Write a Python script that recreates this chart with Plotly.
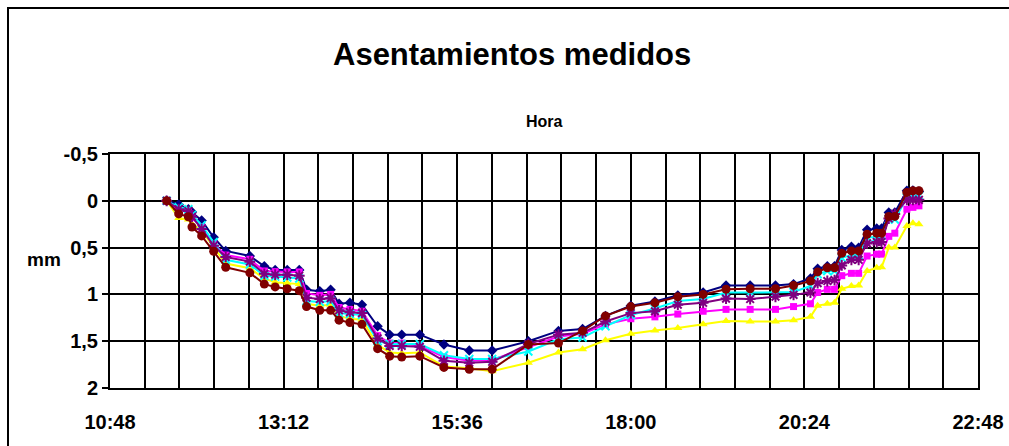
import pandas as pd
import plotly.graph_objects as go

# ---------------- data ----------------
times = ["11:35", "11:45", "11:53", "11:56", "12:04", "12:14", "12:24", "12:44", "12:56", "13:05",
         "13:15", "13:25", "13:31", "13:42", "13:51", "13:58", "14:07", "14:17", "14:30", "14:40",
         "14:50", "15:05", "15:25", "15:46", "16:05", "16:35", "17:00", "17:20", "17:39", "18:00",
         "18:20", "18:39", "19:00", "19:19", "19:39", "20:00", "20:15", "20:29", "20:35", "20:43",
         "20:49", "20:55", "21:03", "21:09", "21:16", "21:24", "21:28", "21:34", "21:39", "21:49",
         "21:54", "21:59"]

serie_azul = [0, 0.04, 0.09, 0.12, 0.21, 0.39, 0.535, 0.59, 0.70, 0.74,
              0.74, 0.74, 0.95, 0.965, 0.95, 1.10, 1.09, 1.11, 1.34, 1.43,
              1.43, 1.43, 1.535, 1.60, 1.60, 1.50, 1.39, 1.37, 1.23, 1.12,
              1.075, 1.01, 0.98, 0.905, 0.905, 0.905, 0.89, 0.83, 0.725, 0.70,
              0.70, 0.525, 0.49, 0.50, 0.31, 0.296, 0.296, 0.125, 0.125, -0.107,
              -0.11, -0.10]
serie_magenta = [0, 0.10, 0.12, 0.18, 0.28, 0.46, 0.58, 0.625, 0.75, 0.757,
                 0.76, 0.76, 0.99, 1.01, 1.00, 1.14, 1.16, 1.18, 1.44, 1.52,
                 1.52, 1.55, 1.67, 1.71, 1.70, 1.56, 1.45, 1.42, 1.32, 1.26,
                 1.24, 1.21, 1.18, 1.16, 1.16, 1.16, 1.13, 1.10, 0.98, 0.946,
                 0.946, 0.80, 0.775, 0.775, 0.59, 0.57, 0.57, 0.38, 0.346, 0.09,
                 0.07, 0.054]
serie_amarilla = [0, 0.185, 0.20, 0.25, 0.32, 0.50, 0.67, 0.72, 0.83, 0.87,
                  0.88, 0.89, 1.10, 1.12, 1.11, 1.23, 1.26, 1.27, 1.54, 1.62,
                  1.63, 1.62, 1.77, 1.79, 1.82, 1.73, 1.62, 1.585, 1.49, 1.42,
                  1.385, 1.36, 1.32, 1.285, 1.29, 1.29, 1.275, 1.24, 1.12, 1.10,
                  1.09, 0.94, 0.91, 0.905, 0.75, 0.715, 0.71, 0.50, 0.50, 0.27,
                  0.24, 0.25]
serie_cian = [0, 0.07, 0.09, 0.15, 0.26, 0.44, 0.63, 0.68, 0.80, 0.81,
              0.82, 0.83, 1.07, 1.08, 1.07, 1.20, 1.21, 1.22, 1.50, 1.53,
              1.53, 1.53, 1.65, 1.69, 1.69, 1.61, 1.48, 1.46, 1.34, 1.22,
              1.15, 1.07, 1.05, 0.98, 0.98, 0.98, 0.975, 0.91, 0.785, 0.75,
              0.75, 0.61, 0.58, 0.58, 0.39, 0.39, 0.37, 0.196, 0.20, -0.036,
              -0.054, -0.054]
serie_purpura = [0, 0.09, 0.11, 0.17, 0.30, 0.48, 0.60, 0.65, 0.78, 0.79,
                 0.79, 0.80, 1.035, 1.05, 1.04, 1.17, 1.19, 1.20, 1.47, 1.55,
                 1.55, 1.56, 1.71, 1.73, 1.72, 1.53, 1.43, 1.41, 1.29, 1.20,
                 1.18, 1.11, 1.09, 1.045, 1.05, 1.025, 1.005, 0.98, 0.88, 0.857,
                 0.847, 0.69, 0.63, 0.63, 0.455, 0.44, 0.44, 0.19, 0.14, -0.01,
                 -0.01, -0.01]
serie_granate = [0, 0.14, 0.17, 0.28, 0.375, 0.54, 0.71, 0.77, 0.89, 0.92,
                 0.94, 0.96, 1.13, 1.17, 1.17, 1.275, 1.30, 1.32, 1.58, 1.66,
                 1.67, 1.66, 1.78, 1.80, 1.80, 1.535, 1.52, 1.39, 1.23, 1.13,
                 1.09, 1.025, 1.00, 0.945, 0.94, 0.94, 0.905, 0.857, 0.76, 0.715,
                 0.715, 0.56, 0.535, 0.535, 0.357, 0.346, 0.346, 0.167, 0.167, -0.09,
                 -0.107, -0.107]

y_tick_vals = [-0.5, 0, 0.5, 1, 1.5, 2]
y_tick_text = ["-0,5", "0", "0,5", "1", "1,5", "2"]
x_label_text = ["10:48", "13:12", "15:36", "18:00", "20:24", "22:48"]

# ---------------- figure ----------------
DAY = "2000-01-01 "
x = pd.to_datetime([DAY + t for t in times])
x_start = pd.Timestamp(DAY + "10:48")
x_end = pd.Timestamp(DAY + "22:48")
grid_pos = pd.date_range(x_start, x_end, periods=26)  # 28.8 min grid (Excel 0,02 day)
grid_text = []
for i in range(len(grid_pos)):
    grid_text.append(x_label_text[i // 5] if i % 5 == 0 else "")

W, H = 1009, 446
L, R, T, B = 110, 978, 154, 388


def px(xp):
    return (xp - L) / (R - L)


def py(yp):
    return (B - yp) / (B - T)


series = [
    ("Serie1", serie_azul, "#000080", "diamond", 8),
    ("Serie2", serie_magenta, "#FF00FF", "square", 7),
    ("Serie3", serie_amarilla, "#FFFF00", "triangle-up", 8),
    ("Serie4", serie_cian, "#00FFFF", "x-thin", 8),
    ("Serie5", serie_purpura, "#800080", "asterisk", 9),
    ("Serie6", serie_granate, "#800000", "circle", 9),
]

fig = go.Figure()
for name, vals, col, sym, size in series:
    if sym in ("x-thin", "asterisk"):
        marker = dict(symbol=sym, size=size, color=col, line=dict(width=2, color=col))
    else:
        marker = dict(symbol=sym, size=size, color=col, line=dict(width=0))
    fig.add_trace(go.Scatter(x=x, y=vals, mode="lines+markers", name=name,
                             line=dict(color=col, width=2), marker=marker,
                             showlegend=False))

font_b = dict(family="Liberation Sans, Arial, sans-serif", color="black", weight="bold")

fig.update_layout(
    width=W, height=H,
    margin=dict(l=L, r=W - R, t=T, b=H - B, pad=0, autoexpand=False),
    paper_bgcolor="white", plot_bgcolor="white",
    xaxis=dict(type="date", range=[x_start, x_end], automargin=False,
               tickmode="array", tickvals=list(grid_pos), ticktext=grid_text,
               showgrid=True, gridcolor="black", gridwidth=2,
               showline=True, linecolor="black", linewidth=2, mirror=True,
               ticks="", ticklabelstandoff=15,
               tickfont=dict(size=20, **font_b), zeroline=False),
    yaxis=dict(range=[2, -0.5], tickmode="array", tickvals=y_tick_vals, ticktext=y_tick_text,
               automargin=False,
               showgrid=True, gridcolor="black", gridwidth=2,
               showline=True, linecolor="black", linewidth=2, mirror=True,
               ticks="outside", ticklen=6, tickwidth=2, tickcolor="black",
               tickfont=dict(size=20, **font_b), zeroline=False),
    annotations=[
        dict(text="Asentamientos medidos", xref="paper", yref="paper",
             x=px(512), y=py(55), xanchor="center", yanchor="middle", showarrow=False,
             font=dict(size=31, **font_b)),
        dict(text="Hora", xref="paper", yref="paper",
             x=px(544), y=py(121), xanchor="center", yanchor="middle", showarrow=False,
             font=dict(size=16, **font_b)),
        dict(text="mm", xref="paper", yref="paper",
             x=px(44), y=py(259), xanchor="center", yanchor="middle", showarrow=False,
             font=dict(size=19, **font_b)),
    ],
    shapes=[
        dict(type="rect", xref="paper", yref="paper",
             x0=px(8), x1=px(1040), y0=py(480), y1=py(8),
             line=dict(color="black", width=2), fillcolor="rgba(0,0,0,0)", layer="below"),
    ],
)

fig.write_html("out.html", config={"displayModeBar": False},
               post_script="document.body.style.margin='0';document.body.style.overflow='hidden';")
